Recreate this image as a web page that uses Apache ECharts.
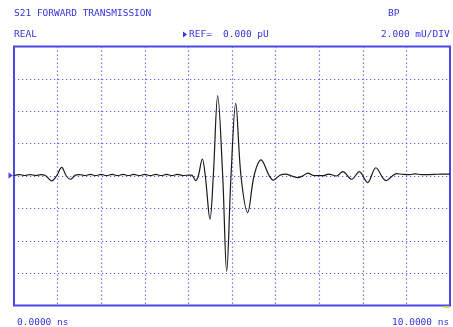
<!DOCTYPE html>
<html>
<head>
<meta charset="utf-8">
<script src="https://cdn.jsdelivr.net/npm/echarts@6/dist/echarts.min.js"></script>
<style>html,body{margin:0;padding:0;background:#fff;}#c{width:453px;height:327px;}</style>
</head>
<body>
<div id="c"></div>
<script>
// time axis (ns) and REAL trace values (mU)
const timeNs = [0,0.12,0.25,0.37,0.5,0.62,
  0.71,0.865,0.975,1.094,1.2,1.30,1.40,
  1.5,1.625,1.75,1.875,2.0,2.125,2.25,2.375,2.5,2.625,2.75,2.875,3.0,3.125,3.25,3.375,3.5,3.625,3.75,3.875,
  4.037,4.076,4.167,4.227,4.319,4.388,4.495,4.571,4.672,4.787,4.878,4.977,5.085,5.206,5.360,5.505,5.665,5.856,5.947,6.101,
  6.23,6.37,6.51,6.62,6.74,6.87,6.97,7.1,7.21,7.40,7.54,7.745,7.92,8.11,8.30,8.53,8.78,8.92,9.07,9.2,9.35,9.5,9.65,9.8,10.0];
const realMU = [0.03,0.09,0.03,0.09,0.03,0.08,
  0.05,-0.3,0,0.53,0.0,-0.2,0.05,
  0.09,0.03,0.1,0.03,0.1,0.03,0.1,0.03,0.1,0.03,0.1,0.03,0.1,0.03,0.1,0.03,0.1,0.03,0.1,0.03,
  0.06,0.06,-0.29,0,1.05,0,-2.67,0,4.96,0,-5.9,0,4.49,0,-2.26,0,0.99,0,-0.25,0.05,
  0.12,0.0,-0.1,0.0,0.18,0.03,0.02,0.02,0.12,0.0,0.27,-0.2,0.27,-0.41,0.51,-0.29,0.15,0.1,0.09,0.13,0.09,0.09,0.1,0.12,0.12];
const xMin = 0, xMax = 10, xStep = 1;
const yMin = -8, yMax = 8, yStep = 2;
const headerTitle = 'S21 FORWARD TRANSMISSION';
const headerMode = 'BP';
const formatLabel = 'REAL';
const refLabel = 'REF=';
const refValue = '0.000 pU';
const scaleLabel = '2.000 mU/DIV';
const startLabel = '0.0000 ns';
const stopLabel = '10.0000 ns';

const blueText = '#3434dc';
const font = '9.5px "DejaVu Sans Mono"';
const chart = echarts.init(document.getElementById('c'), null, {renderer: 'canvas'});
const txt = (x, y, s) => ({type: 'text', x: x, y: y, style: {text: s, font: font, fill: blueText, verticalAlign: 'middle'}});
chart.setOption({
  animation: false,
  backgroundColor: '#fff',
  grid: {left: 14, width: 436, top: 46.5, height: 259, show: true, borderColor: '#4646e6', borderWidth: 2, backgroundColor: 'transparent'},
  xAxis: {type: 'value', min: xMin, max: xMax, interval: xStep,
    axisLine: {show: false}, axisTick: {show: false}, axisLabel: {show: false},
    splitLine: {show: true, lineStyle: {color: '#5858ee', width: 1.2, type: [1.2, 2.8]}}},
  yAxis: {type: 'value', min: yMin, max: yMax, interval: yStep,
    axisLine: {show: false}, axisTick: {show: false}, axisLabel: {show: false},
    splitLine: {show: true, lineStyle: {color: '#5858ee', width: 1.2, type: [1.2, 2.8]}}},
  series: [{type: 'line', data: timeNs.map((t, i) => [t, realMU[i]]), showSymbol: false, smooth: 0.35,
    lineStyle: {color: '#1a1a1a', width: 1.2}, z: 5}],
  graphic: [
    txt(14, 13.5, headerTitle),
    txt(388, 13.5, headerMode),
    txt(14, 34.5, formatLabel),
    txt(189, 34.5, refLabel),
    txt(223, 34.5, refValue),
    txt(381, 34.5, scaleLabel),
    txt(17, 322.5, startLabel),
    txt(392, 322.5, stopLabel),
    {type: 'polygon', shape: {points: [[183, 31.5], [187, 34.5], [183, 37.5]]}, style: {fill: blueText}},
    {type: 'polygon', shape: {points: [[8.5, 172.5], [13, 175.5], [8.5, 178.5]]}, style: {fill: '#4646e6'}},
    {type: 'rect', shape: {x: 443, y: 306.5, width: 7, height: 1.5}, style: {fill: '#e8e040'}}
  ]
});
</script>
</body>
</html>
